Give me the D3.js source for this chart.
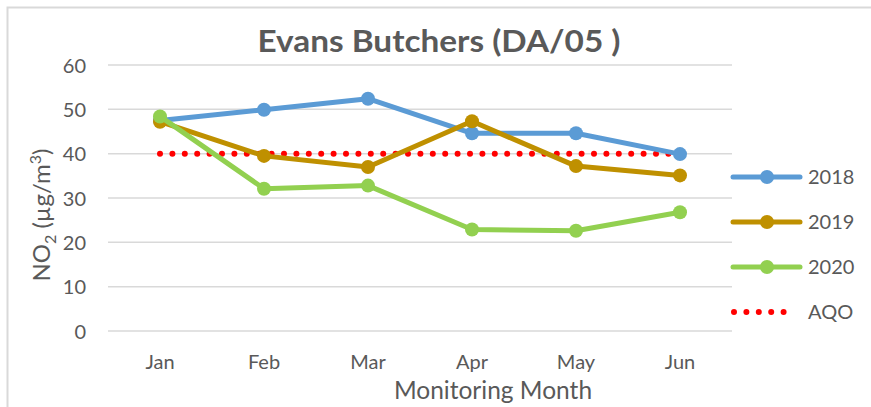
<!DOCTYPE html>
<html>
<head>
<meta charset="utf-8">
<script src="https://cdn.jsdelivr.net/npm/d3@7"></script>
<style>
  body { margin: 0; background: #fff; }
  text { font-family: Lato, "Open Sans", sans-serif; fill: #595959; }
</style>
</head>
<body>
<div id="chart"></div>
<script>
const months = ['Jan', 'Feb', 'Mar', 'Apr', 'May', 'Jun'];
const years = ['2018', '2019', '2020'];
const values2018 = [47.5, 49.9, 52.4, 44.6, 44.6, 39.9];
const values2019 = [47.2, 39.5, 37.0, 47.3, 37.2, 35.1];
const values2020 = [48.4, 32.1, 32.8, 22.9, 22.6, 26.8];
const aqo = 40;
const yTicks = [0, 10, 20, 30, 40, 50, 60];
const colors = ['#5B9BD5', '#BF9000', '#92D050'];

const width = 871;
const height = 407;
const margin = { top: 65, right: 139, bottom: 76, left: 108 };

const svg = d3.select('#chart')
  .append('svg')
  .attr('width', width)
  .attr('height', height);

// outer chart border (only left and top visible)
svg.append('path')
  .attr('d', 'M7.5,' + height + 'V7.5H' + width)
  .attr('fill', 'none')
  .attr('stroke', '#D9D9D9')
  .attr('stroke-width', 2);

const x = d3.scaleBand()
  .domain(months)
  .range([margin.left, width - margin.right]);
const y = d3.scaleLinear()
  .domain([0, 60])
  .range([height - margin.bottom, margin.top]);

// gridlines
svg.append('g')
  .selectAll('line')
  .data(yTicks)
  .enter()
  .append('line')
  .attr('x1', margin.left)
  .attr('x2', width - margin.right)
  .attr('y1', d => y(d))
  .attr('y2', d => y(d))
  .attr('stroke', '#D9D9D9')
  .attr('stroke-width', 1.5);

// y axis
const yAxis = svg.append('g')
  .attr('transform', 'translate(' + (margin.left - 22) + ',0)')
  .call(d3.axisLeft(y).tickValues(yTicks).tickSize(0).tickPadding(0));
yAxis.select('.domain').remove();
yAxis.selectAll('text')
  .style('font-size', '20px')
  .attr('dy', '0.35em')
  .attr('fill', '#595959');

// x axis
const xAxis = svg.append('g')
  .attr('transform', 'translate(0,' + (height - margin.bottom) + ')')
  .call(d3.axisBottom(x).tickSize(0).tickPadding(24));
xAxis.select('.domain').remove();
xAxis.selectAll('text')
  .style('font-size', '20px')
  .attr('fill', '#595959');

// title
svg.append('text')
  .attr('x', 439)
  .attr('y', 52)
  .attr('text-anchor', 'middle')
  .attr('textLength', 363)
  .attr('lengthAdjust', 'spacingAndGlyphs')
  .style('font-size', '31px')
  .style('font-weight', 'bold')
  .text('Evans Butchers (DA/05 )');

// axis titles
svg.append('text')
  .attr('x', 493)
  .attr('y', 399)
  .attr('text-anchor', 'middle')
  .style('font-size', '24.5px')
  .text('Monitoring Month');

const yLabel = svg.append('text')
  .attr('transform', 'translate(50,' + 215 + ') rotate(-90)')
  .attr('text-anchor', 'middle')
  .style('font-size', '24px');
yLabel.append('tspan').text('NO');
yLabel.append('tspan').attr('dy', 6).style('font-size', '16px').text('2');
yLabel.append('tspan').attr('dy', -6).text(' (µg/m');
yLabel.append('tspan').attr('dy', -9).style('font-size', '16px').text('3');
yLabel.append('tspan').attr('dy', 9).text(')');

const cx = d => x(d) + x.bandwidth() / 2;

// AQO line
svg.append('line')
  .attr('x1', cx(months[0]))
  .attr('x2', cx(months[months.length - 1]))
  .attr('y1', y(aqo))
  .attr('y2', y(aqo))
  .attr('stroke', '#FF0000')
  .attr('stroke-width', 6)
  .attr('stroke-linecap', 'round')
  .attr('stroke-dasharray', '0 12.4');

// series
const series = [values2018, values2019, values2020];
const line = d3.line()
  .x((d, i) => cx(months[i]))
  .y(d => y(d));

series.forEach((vals, k) => {
  const g = svg.append('g');
  g.append('path')
    .datum(vals)
    .attr('d', line)
    .attr('fill', 'none')
    .attr('stroke', colors[k])
    .attr('stroke-width', 5)
    .attr('stroke-linejoin', 'round');
  g.selectAll('circle')
    .data(vals)
    .enter()
    .append('circle')
    .attr('cx', (d, i) => cx(months[i]))
    .attr('cy', d => y(d))
    .attr('r', 7)
    .attr('fill', colors[k]);
});

// legend
const legendItems = years.map((yr, k) => ({ label: yr, color: colors[k], type: 'line' }))
  .concat([{ label: 'AQO', color: '#FF0000', type: 'dots' }]);
const legend = svg.append('g');
legendItems.forEach((item, i) => {
  const ly = 177 + i * 45;
  if (item.type === 'line') {
    legend.append('line')
      .attr('x1', 733).attr('x2', 800)
      .attr('y1', ly).attr('y2', ly)
      .attr('stroke', item.color)
      .attr('stroke-width', 5)
      .attr('stroke-linecap', 'round');
    legend.append('circle')
      .attr('cx', 767).attr('cy', ly)
      .attr('r', 7)
      .attr('fill', item.color);
  } else {
    legend.append('line')
      .attr('x1', 734).attr('x2', 796)
      .attr('y1', ly).attr('y2', ly)
      .attr('stroke', item.color)
      .attr('stroke-width', 6)
      .attr('stroke-linecap', 'round')
      .attr('stroke-dasharray', '0 12.4');
  }
  legend.append('text')
    .attr('x', 808)
    .attr('y', ly)
    .attr('dy', '0.35em')
    .style('font-size', '20px')
    .text(item.label);
});
</script>
</body>
</html>
